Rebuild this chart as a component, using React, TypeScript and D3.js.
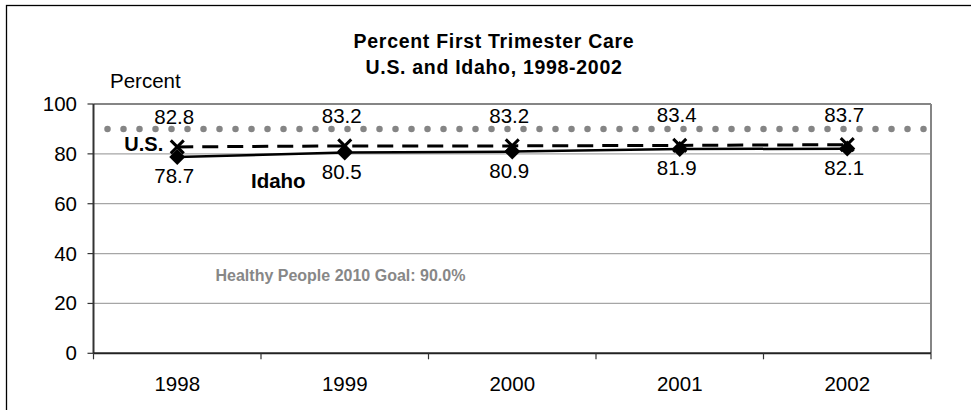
import React from "react";
import * as d3 from "d3";

const years = ["1998", "1999", "2000", "2001", "2002"];
const usValues = [82.8, 83.2, 83.2, 83.4, 83.7];
const idahoValues = [78.7, 80.5, 80.9, 81.9, 82.1];
const goalValue = 90;
const yTicks = [0, 20, 40, 60, 80, 100];
const titleLines = ["Percent First Trimester Care", "U.S. and Idaho, 1998-2002"];

const W = 971;
const H = 410;
const FONT = "'Liberation Sans', Arial, sans-serif";

export default function App() {
  const left = 93.5;
  const right = 931;
  const top = 104;
  const bottom = 353.3;

  const x = d3.scaleBand<string>().domain(years).range([left, right]).padding(0);
  const cx = (d: string) => (x(d) as number) + x.bandwidth() / 2;
  const y = d3.scaleLinear().domain([0, 100]).range([bottom, top]);

  const usData = years.map((yr, i) => ({ yr, v: usValues[i] }));
  const idData = years.map((yr, i) => ({ yr, v: idahoValues[i] }));

  const line = d3
    .line<{ yr: string; v: number }>()
    .x((d) => cx(d.yr))
    .y((d) => y(d.v));

  const goalPath = d3.line<number>().x((d) => d).y(() => y(goalValue))([left + 14, right - 6]);

  const xBoundaries = [...years.map((d) => x(d) as number), right];

  return (
    <svg width={W} height={H} style={{ position: "absolute", left: 0, top: 0, display: "block" }}>
      <rect x={0} y={0} width={W} height={H} fill="#fff" />
      <rect x={6.5} y={5.5} width={1200} height={600} fill="none" stroke="#000" strokeWidth={1.3} />

      {/* title */}
      {titleLines.map((t, i) => (
        <text
          key={t}
          x={494}
          y={48 + i * 26}
          textAnchor="middle"
          fontFamily={FONT}
          fontWeight="bold"
          fontSize={19.5}
          letterSpacing={0.7}
          fill="#000"
        >
          {t}
        </text>
      ))}

      {/* y axis title */}
      <text x={110} y={88} fontFamily={FONT} fontSize={20.5} fill="#000">
        Percent
      </text>

      {/* gridlines */}
      {yTicks
        .filter((t) => t > 0 && t < 100)
        .map((t) => (
          <line key={t} x1={left} x2={right} y1={y(t)} y2={y(t)} stroke="#a6a6a6" strokeWidth={1.2} />
        ))}

      {/* plot frame top and right */}
      <line x1={left} x2={right} y1={top} y2={top} stroke="#858585" strokeWidth={2} />
      <line x1={right} x2={right} y1={top} y2={bottom} stroke="#858585" strokeWidth={2} />

      {/* y axis */}
      <line x1={left} x2={left} y1={top} y2={bottom} stroke="#333" strokeWidth={2} />
      {yTicks.map((t) => (
        <g key={t}>
          <line x1={left - 6} x2={left} y1={y(t)} y2={y(t)} stroke="#333" strokeWidth={1.2} />
          <text
            x={77}
            y={y(t) + 7}
            textAnchor="end"
            fontFamily={FONT}
            fontSize={20.5}
            fill="#000"
          >
            {t}
          </text>
        </g>
      ))}

      {/* x axis */}
      <line x1={left} x2={right} y1={bottom} y2={bottom} stroke="#222" strokeWidth={2} />
      {xBoundaries.map((b, i) => (
        <line key={i} x1={b} x2={b} y1={bottom} y2={bottom + 6} stroke="#333" strokeWidth={1.2} />
      ))}
      {years.map((yr) => (
        <text
          key={yr}
          x={cx(yr)}
          y={391}
          textAnchor="middle"
          fontFamily={FONT}
          fontSize={20.5}
          fill="#000"
        >
          {yr}
        </text>
      ))}

      {/* goal dotted line */}
      <path
        d={goalPath || ""}
        stroke="#858585"
        strokeWidth={6.5}
        strokeLinecap="round"
        strokeDasharray="0 16"
        fill="none"
      />

      {/* Idaho line */}
      <path d={line(idData) || ""} fill="none" stroke="#000" strokeWidth={2.5} />
      {/* US dashed line */}
      <path d={line(usData) || ""} fill="none" stroke="#000" strokeWidth={3} strokeDasharray="16 9" />

      {/* Idaho diamonds */}
      {idData.map((d) => {
        const px = cx(d.yr);
        const py = y(d.v);
        const s = 8;
        return (
          <path
            key={d.yr}
            d={`M${px},${py - s}L${px + s},${py}L${px},${py + s}L${px - s},${py}Z`}
            fill="#000"
          />
        );
      })}

      {/* US crosses */}
      {usData.map((d) => {
        const px = cx(d.yr);
        const py = y(d.v);
        const s = 6.5;
        return (
          <path
            key={d.yr}
            d={`M${px - s},${py - s}L${px + s},${py + s}M${px - s},${py + s}L${px + s},${py - s}`}
            stroke="#000"
            strokeWidth={3}
            fill="none"
          />
        );
      })}

      {/* data labels */}
      {usData.map((d) => (
        <text
          key={d.yr}
          x={cx(d.yr) - 3}
          y={y(d.v) - 23}
          textAnchor="middle"
          fontFamily={FONT}
          fontSize={20.5}
          fill="#000"
        >
          {d.v.toFixed(1)}
        </text>
      ))}
      {idData.map((d) => (
        <text
          key={d.yr}
          x={cx(d.yr) - 3}
          y={y(d.v) + 26}
          textAnchor="middle"
          fontFamily={FONT}
          fontSize={20.5}
          fill="#000"
        >
          {d.v.toFixed(1)}
        </text>
      ))}

      {/* series labels */}
      <text
        x={cx(years[0]) - 14}
        y={y(usValues[0]) + 4}
        textAnchor="end"
        fontFamily={FONT}
        fontWeight="bold"
        fontSize={20}
        fill="#000"
      >
        U.S.
      </text>
      <text
        x={cx(years[0]) + 0.44 * x.bandwidth()}
        y={188}
        fontFamily={FONT}
        fontWeight="bold"
        fontSize={20.5}
        fill="#000"
      >
        Idaho
      </text>

      {/* goal label */}
      <text x={left + 122} y={y(29)} fontFamily={FONT} fontWeight="bold" fontSize={16} fill="#878787">
        Healthy People 2010 Goal: 90.0%
      </text>
    </svg>
  );
}
